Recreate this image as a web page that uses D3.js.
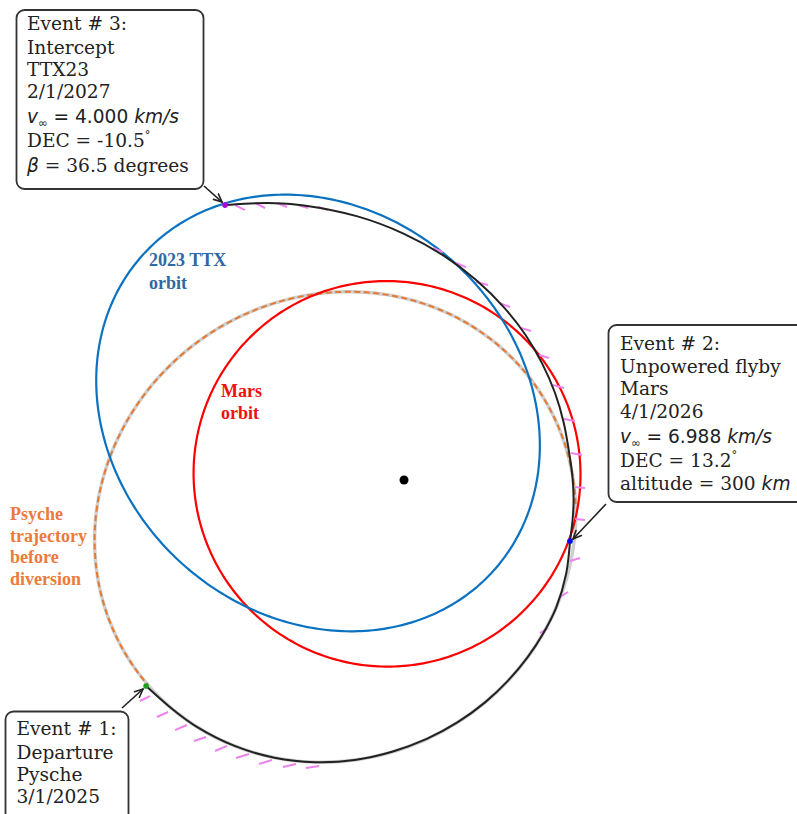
<!DOCTYPE html>
<html><head><meta charset="utf-8">
<script src="https://cdn.jsdelivr.net/npm/d3@7"></script>
<style>body{margin:0;background:#fff;} svg{display:block;}</style>
</head><body>
<svg id="chart" width="797" height="814"></svg>
<script>
// ---------- DATA (heliocentric, AU) ----------
// Heliocentric conics: Psyche trajectory, Mars orbit
const conicNames = ["Psyche trajectory", "Mars orbit"];
const conicA = [1.93, 1.524];          // semi-major axis (AU)
const conicE = [0.34, 0.0934];         // eccentricity
const conicPeri = [34.3, -20];         // perihelion direction (deg)
// Psyche trajectory before diversion: polar-angle range (deg)
const psycheBeforeArc = [-8, 218.6];
// 2023 TTX orbit (projected ellipse)
const ttxCenter = [-0.677, 0.528];
const ttxAxes = [1.858, 1.598];
const ttxRotation = -42;
// Diverted trajectory, leg 1: departure -> Mars flyby
const leg1X = [-2.031, -1.813, -1.631, -1.334, -1.020, -0.700, -0.389, -0.094, 0.179, 0.423, 0.638, 0.821, 0.975, 1.100, 1.198, 1.276, 1.307];
const leg1Y = [-1.622, -1.813, -1.944, -2.094, -2.187, -2.222, -2.205, -2.140, -2.039, -1.907, -1.751, -1.578, -1.393, -1.201, -1.005, -0.740, -0.480];
// Leg 2: Mars flyby -> intercept
const leg2X = [1.307, 1.327, 1.335, 1.327, 1.303, 1.256, 1.189, 1.090, 0.957, 0.785, 0.572, 0.312, 0.000, -0.366, -0.787, -1.017, -1.257, -1.409];
const leg2Y = [-0.480, -0.315, -0.157, 0.016, 0.197, 0.457, 0.685, 0.913, 1.142, 1.362, 1.572, 1.767, 1.939, 2.076, 2.162, 2.180, 2.176, 2.165];
// Thrust vectors (start -> end, AU)
const thrustX0 = [-2.000, -1.858, -1.709, -1.559, -1.394, -1.220, -1.039, -0.850, -0.669, 1.071, 1.228, 1.307, 1.346, 1.346, 1.315, 1.260, 1.173, 1.063, 0.921, 0.748, 0.567, 0.409, 0.228, -0.677, -0.835, -1.000, -1.173, -1.331];
const thrustY0 = [-1.701, -1.827, -1.929, -2.024, -2.094, -2.157, -2.205, -2.236, -2.252, -1.205, -0.921, -0.638, -0.307, -0.055, 0.213, 0.480, 0.748, 0.984, 1.197, 1.394, 1.559, 1.709, 1.827, 2.150, 2.165, 2.181, 2.181, 2.165];
const thrustX1 = [-2.079, -1.945, -1.803, -1.654, -1.488, -1.323, -1.142, -0.953, -0.772, 1.134, 1.291, 1.386, 1.425, 1.425, 1.402, 1.346, 1.260, 1.142, 1.000, 0.835, 0.661, 0.488, 0.307, -0.598, -0.756, -0.921, -1.094, -1.252];
const thrustY1 = [-1.740, -1.866, -1.969, -2.055, -2.134, -2.189, -2.236, -2.260, -2.268, -1.165, -0.882, -0.614, -0.315, -0.063, 0.197, 0.465, 0.724, 0.961, 1.173, 1.362, 1.535, 1.677, 1.795, 2.126, 2.142, 2.150, 2.142, 2.126];
// Events: departure, Mars flyby, intercept
const eventX = [-2.031, 1.307, -1.409];
const eventY = [-1.622, -0.480, 2.165];
const eventColors = ["#1f9a1f", "#0000ff", "#b000d8"];
// Annotation text (segments: [text, style])
const event1Lines = [[["Event # 1:", "serif"]], [["Departure", "serif"]], [["Pysche", "serif"]], [["3/1/2025", "serif"]]];
const event2Lines = [[["Event # 2:", "serif"]], [["Unpowered flyby", "serif"]], [["Mars", "serif"]], [["4/1/2026", "serif"]],
  [["v", "it"], ["\u221E", "sub"], [" = 6.988 ", "sans"], ["km/s", "it"]], [["DEC = 13.2", "serif"], ["\u00B0", "sup"]], [["altitude = 300 ", "serif"], ["km", "it"]]];
const event3Lines = [[["Event # 3:", "serif"]], [["Intercept", "serif"]], [["TTX23", "serif"]], [["2/1/2027", "serif"]],
  [["v", "it"], ["\u221E", "sub"], [" = 4.000 ", "sans"], ["km/s", "it"]], [["DEC = -10.5", "serif"], ["\u00B0", "sup"]], [["\u03B2", "it"], [" = 36.5 degrees", "serif"]]];
const orbitLabels = [
  {lines: ["2023 TTX", "orbit"], color: "#2f68a6"},
  {lines: ["Mars", "orbit"], color: "#f01010"},
  {lines: ["Psyche", "trajectory", "before", "diversion"], color: "#ec7a3a"}
];

// ---------- DRAW ----------
const W = 797, H = 814;
const svg = d3.select("#chart");
const x = d3.scaleLinear().domain([-3.181, 3.094]).range([0, W]);
const y = d3.scaleLinear().domain([3.780, -2.630]).range([0, H]);
const line = d3.line().x(d => x(d[0])).y(d => y(d[1]));
const smooth = d3.line().x(d => x(d[0])).y(d => y(d[1])).curve(d3.curveCatmullRom.alpha(0.5));
const rad = Math.PI / 180;

function conic(i, th0, th1, n) {
  const a = conicA[i], e = conicE[i], w = conicPeri[i] * rad, p = a * (1 - e * e);
  return d3.range(n + 1).map(k => {
    const th = (th0 + (th1 - th0) * k / n) * rad;
    const r = p / (1 + e * Math.cos(th - w));
    return [r * Math.cos(th), r * Math.sin(th)];
  });
}
function ellipse(c, ax, rot, n) {
  const ro = rot * rad;
  return d3.range(n + 1).map(k => {
    const t = 2 * Math.PI * k / n;
    const u = ax[0] * Math.cos(t), v = ax[1] * Math.sin(t);
    return [c[0] + u * Math.cos(ro) - v * Math.sin(ro), c[1] + u * Math.sin(ro) + v * Math.cos(ro)];
  });
}

const g = svg.append("g");
// Psyche full trajectory (grey)
g.append("path").attr("d", line(conic(0, 0, 360, 360))).attr("fill", "none")
  .attr("stroke", "#cfcfcf").attr("stroke-width", 3.5);
// Psyche before diversion (orange dashed)
g.append("path").attr("d", line(conic(0, psycheBeforeArc[0], psycheBeforeArc[1], 300))).attr("fill", "none")
  .attr("stroke", "#e57a35").attr("stroke-width", 2).attr("stroke-dasharray", "6,3.5");
// Mars orbit
g.append("path").attr("d", line(conic(1, 0, 360, 360))).attr("fill", "none")
  .attr("stroke", "#ff0000").attr("stroke-width", 2.2);
// TTX orbit
g.append("path").attr("d", line(ellipse(ttxCenter, ttxAxes, ttxRotation, 360))).attr("fill", "none")
  .attr("stroke", "#0a72c0").attr("stroke-width", 2.2);
// Thrust ticks
g.selectAll("line.thrust").data(d3.range(thrustX0.length)).join("line").attr("class", "thrust")
  .attr("x1", i => x(thrustX0[i])).attr("y1", i => y(thrustY0[i]))
  .attr("x2", i => x(thrustX1[i])).attr("y2", i => y(thrustY1[i]))
  .attr("stroke", "#ee82ee").attr("stroke-width", 2);
// Trajectory legs
[[leg1X, leg1Y], [leg2X, leg2Y]].forEach(([lx, ly]) => {
  g.append("path").attr("d", smooth(lx.map((v, i) => [v, ly[i]]))).attr("fill", "none")
    .attr("stroke", "#222").attr("stroke-width", 2);
});
// Sun
g.append("circle").attr("cx", x(0)).attr("cy", y(0)).attr("r", 4.5).attr("fill", "#000");
// Events
g.selectAll("circle.ev").data(d3.range(3)).join("circle").attr("class", "ev")
  .attr("cx", i => x(eventX[i])).attr("cy", i => y(eventY[i])).attr("r", 2.8)
  .attr("fill", i => eventColors[i]);

// Orbit labels
const labelPos = [[149, 266, 23], [221, 397, 22], [10, 520, 21.5]];
orbitLabels.forEach((L, k) => {
  const t = svg.append("text").attr("font-family", "'Liberation Serif', 'Times New Roman', serif")
    .attr("font-weight", "bold").attr("font-size", 18).attr("fill", L.color);
  L.lines.forEach((s, j) => t.append("tspan").attr("x", labelPos[k][0]).attr("y", labelPos[k][1] + j * labelPos[k][2]).text(s));
});

// Annotation boxes
const fs = 18.6;
function box(lines, bx, by, bw, bh, tx, baselines) {
  svg.append("rect").attr("x", bx).attr("y", by).attr("width", bw).attr("height", bh)
    .attr("rx", 8).attr("fill", "#fff").attr("stroke", "#333").attr("stroke-width", 1.8);
  lines.forEach((segs, j) => {
    const t = svg.append("text").attr("x", tx).attr("y", baselines[j]).attr("font-size", fs).attr("fill", "#222")
      .attr("font-family", "'DejaVu Serif', serif");
    let cur = 0;
    segs.forEach(([s, st]) => {
      const sp = t.append("tspan").text(s);
      let target = 0;
      if (st === "sans") sp.attr("font-family", "'DejaVu Sans', sans-serif");
      if (st === "it") sp.attr("font-family", "'DejaVu Sans', sans-serif").attr("font-style", "italic");
      if (st === "sub") { sp.attr("font-family", "'DejaVu Sans', sans-serif").attr("font-size", fs * 0.62); target = 4; }
      if (st === "sup") { sp.attr("font-size", fs * 0.6); target = -8; }
      if (target !== cur) sp.attr("dy", target - cur);
      cur = target;
    });
  });
}
box(event3Lines, 16.5, 10, 187, 179, 27, [30, 54, 76, 98, 123, 147, 172]);
box(event2Lines, 608.5, 325, 200, 177, 620, [350, 373, 395, 418, 443, 467, 490]);
box(event1Lines, 5.5, 711.5, 123, 120, 16.5, [735, 759, 781, 803]);

// Arrows
function arrow(x1, y1, x2, y2) {
  svg.append("line").attr("x1", x1).attr("y1", y1).attr("x2", x2).attr("y2", y2)
    .attr("stroke", "#222").attr("stroke-width", 1.6);
  const ang = Math.atan2(y2 - y1, x2 - x1), L = 9, h = 0.42;
  [ang + Math.PI - h, ang + Math.PI + h].forEach(a => {
    svg.append("line").attr("x1", x2).attr("y1", y2)
      .attr("x2", x2 + L * Math.cos(a)).attr("y2", y2 + L * Math.sin(a))
      .attr("stroke", "#222").attr("stroke-width", 1.6).attr("stroke-linecap", "round");
  });
}
arrow(204, 186, x(eventX[2]) - 3, y(eventY[2]) - 3);
arrow(606, 504, x(eventX[1]) + 3, y(eventY[1]) - 2);
arrow(122, 708, x(eventX[0]) - 3, y(eventY[0]) + 3);
</script>
</body></html>
